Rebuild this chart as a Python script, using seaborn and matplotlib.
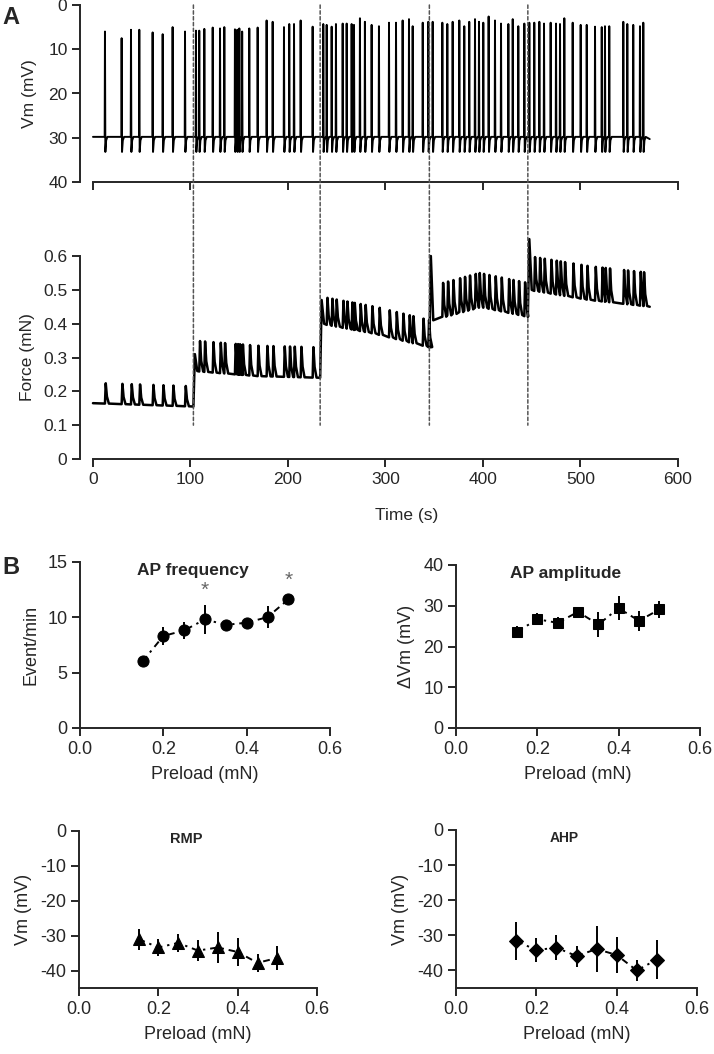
import numpy as np
import seaborn as sns
import matplotlib.pyplot as plt
from matplotlib.patches import ConnectionPatch

# ---- panel A: spike times (s) and peak Vm ----
spike_times = [12.3, 29.4, 39, 47.5, 61.2, 71.5, 81.7, 94.4, 105.6, 109, 114.2, 122.8,
               130.3, 134.7, 145.6, 148, 150.1, 153, 160.3, 168.9, 178.1, 184.3, 195.9,
               201.3, 206.2, 213, 225.3, 236.2, 239.7, 244.8, 249.2,
               256.1, 260.2, 265.3, 267.7, 273.8, 278.9, 285.8, 293.3, 303.6, 310.8,
               317.6, 324.1, 327.9, 338.2, 343.9, 348.4, 358.3, 363.4, 368.9, 375.7,
               380.8, 385.9, 391.8, 395.9, 400.3, 405.8, 412.3, 418.5, 426, 430.5,
               436.2, 442.4, 447.5, 452.6, 457.8, 462.6, 469.4, 474.9, 479, 483.4, 492,
               500.2, 506.4, 514.9, 521.8, 525.1, 529.5, 543.9, 548, 554.1, 561, 564.4]
spike_peaks = [6.0, 7.5, 5.6, 5.6, 6.2, 6.6, 5.0, 6.0, 5.8, 5.8, 5.4, 5.1, 5.3, 5.0,
               5.5, 5.6, 5.3, 6.0, 5.3, 5.1, 3.5, 3.8, 5.0, 4.3, 4.3, 3.5, 4.9, 4.3, 4.5,
               4.9, 4.3,
               4.2, 4.2, 4.3, 4.5, 3.0, 3.8, 4.5, 4.8, 4.0, 4.0, 3.5, 3.2, 4.8, 4.0, 3.8,
               3.8, 4.0, 4.3, 3.8, 3.5, 4.8, 3.8, 3.2, 3.8, 4.0, 2.6, 3.5, 4.2, 4.3, 3.2,
               4.8, 4.2, 4.0, 4.0, 3.8, 4.2, 4.0, 4.2, 4.3, 3.0, 4.0, 4.5, 4.5, 4.9, 5.0,
               4.8, 4.8, 3.8, 4.3, 4.5, 4.8, 4.0]
trace_end = 571
vm_rest = 29.8
vm_ahp = 33.2

# force steps: baseline at start, middle and end of each segment
step_times = [103, 233, 345, 446]
seg_base_start = [0.165, 0.26, 0.40, 0.41, 0.50]
seg_base_mid = [0.160, 0.245, 0.37, 0.45, 0.47]
seg_base_end = [0.155, 0.240, 0.33, 0.42, 0.45]
seg_twitch = [0.06, 0.09, 0.08, 0.10, 0.10]
step_peaks = [0.31, 0.47, 0.60, 0.65]

# ---- panel B ----
preload = [0.15, 0.20, 0.25, 0.30, 0.35, 0.40, 0.45, 0.50]
ap_freq = [6.0, 8.3, 8.8, 9.8, 9.3, 9.5, 10.0, 11.6]
ap_freq_err = [0.2, 0.8, 0.8, 1.3, 0.2, 0.2, 1.0, 0.2]
ap_amp = [23.6, 26.7, 25.8, 28.5, 25.4, 29.4, 26.3, 29.1]
ap_amp_err = [1.5, 1.5, 1.5, 1.0, 3.0, 3.0, 2.5, 2.0]
rmp = [-31.0, -33.4, -32.1, -34.3, -33.4, -34.7, -37.8, -36.4]
rmp_err = [3.0, 2.5, 2.5, 3.0, 4.5, 4.0, 2.5, 3.5]
ahp = [-31.6, -34.2, -33.5, -35.9, -33.9, -35.6, -40.0, -36.9]
ahp_err = [5.5, 3.5, 3.5, 3.0, 6.5, 5.0, 3.0, 5.5]
star_x = [0.30, 0.50]
star_y = [12.4, 13.3]

sns.set_style('ticks')
plt.rcParams['font.family'] = ['Liberation Sans', 'DejaVu Sans']
plt.rcParams['axes.unicode_minus'] = False
plt.rcParams['xtick.labelsize'] = 12.5
plt.rcParams['ytick.labelsize'] = 12.5
plt.rcParams['axes.labelsize'] = 12.5
plt.rcParams['axes.linewidth'] = 1.4
plt.rcParams['xtick.major.width'] = 1.4
plt.rcParams['ytick.major.width'] = 1.4
plt.rcParams['xtick.major.size'] = 5.5
plt.rcParams['ytick.major.size'] = 5.5

W, H = 714, 1054
fig = plt.figure(figsize=(W / 100, H / 100), dpi=100)


def box(l, t, r, b):
    return [l / W, 1 - b / H, (r - l) / W, (b - t) / H]


# ---- build the Vm trace from the spike list ----
vt, vv = [0.0], [vm_rest]
for st, pk in zip(spike_times, spike_peaks):
    vt += [st - 0.3, st, st + 0.4, st + 1.2, st + 2.5]
    vv += [vm_rest, pk, vm_ahp, vm_rest + 0.8, vm_rest]
vt.append(trace_end)
vv.append(vm_rest + 0.5)

# ---- build the force trace ----
bounds = [0] + step_times + [trace_end]
ft, fv = [], []
for k in range(5):
    ts, te = bounds[k], bounds[k + 1]
    anchors_t = [ts, (ts + te) / 2, te]
    anchors_v = [seg_base_start[k], seg_base_mid[k], seg_base_end[k]]
    if k > 0:
        ft += [ts, ts + 1.5]
        fv += [seg_base_end[k - 1], step_peaks[k - 1]]
    ft.append(ts + 4 if k > 0 else ts)
    fv.append(seg_base_start[k])
    for st in spike_times:
        if ts + 4 < st < te - 1:
            b = np.interp(st, anchors_t, anchors_v)
            a = seg_twitch[k]
            ft += [st, st + 0.8, st + 2.0, st + 4.0]
            fv += [b, b + a, b + 0.35 * a, b]
    ft.append(te)
    fv.append(seg_base_end[k])

ax_vm = fig.add_axes(box(80, 5, 678, 182))
sns.lineplot(x=vt, y=vv, ax=ax_vm, color='black', lw=1.4, estimator=None, sort=False)
ax_vm.set_xlim(-13.3, 600)
ax_vm.set_ylim(40, 0)
ax_vm.set_yticks([0, 10, 20, 30, 40])
ax_vm.set_xticks(range(0, 601, 100))
ax_vm.set_xticklabels([])
ax_vm.set_ylabel('Vm (mV)', labelpad=8)
sns.despine(ax=ax_vm)
ax_vm.spines['bottom'].set_bounds(0, 600)

ax_f = fig.add_axes(box(80, 256, 678, 459))
sns.lineplot(x=ft, y=fv, ax=ax_f, color='black', lw=1.8, estimator=None, sort=False)
for ln in ax_f.lines:
    ln.set_clip_on(False)
ax_f.set_xlim(-13.3, 600)
ax_f.set_ylim(0, 0.6)
ax_f.set_yticks([0, 0.1, 0.2, 0.3, 0.4, 0.5, 0.6])
ax_f.set_yticklabels(['0', '0.1', '0.2', '0.3', '0.4', '0.5', '0.6'])
ax_f.set_xticks(range(0, 601, 100))
ax_f.set_xlabel('Time (s)', labelpad=6)
ax_f.xaxis.set_label_coords(0.547, -0.24)
ax_f.set_ylabel('Force (mN)', labelpad=6)
sns.despine(ax=ax_f)
ax_f.spines['bottom'].set_bounds(0, 600)

for st in step_times:
    con = ConnectionPatch(xyA=(st, 0), coordsA=ax_vm.transData,
                          xyB=(st, 0.1), coordsB=ax_f.transData,
                          color='#555555', lw=1.1, linestyle=(0, (2.2, 1.6)))
    fig.add_artist(con)

dash = (0, (3.5, 2.5, 1.2, 2.5))


def small_panel(rect, y, yerr, marker, ms, ylim, yticks, ylabel, title, tsize):
    ax = fig.add_axes(rect)
    ax.errorbar(preload, y, yerr=yerr, fmt='none', ecolor='black', elinewidth=1.4, capsize=0)
    sns.lineplot(x=preload, y=y, ax=ax, color='black', lw=1.4, linestyle=dash,
                 marker=marker, markersize=ms, markeredgecolor='black', estimator=None)
    ax.set_xlim(0, 0.6)
    ax.set_ylim(*ylim)
    ax.set_xticks([0, 0.2, 0.4, 0.6])
    ax.set_xticklabels(['0.0', '0.2', '0.4', '0.6'])
    ax.set_yticks(yticks)
    ax.tick_params(labelsize=13)
    ax.set_xlabel('Preload (mN)', labelpad=6, fontsize=13)
    ax.set_ylabel(ylabel, labelpad=6, fontsize=13)
    ax.text(0.45, 0.95, title, transform=ax.transAxes, ha='center', va='center',
            fontsize=tsize, fontweight='bold')
    sns.despine(ax=ax)
    return ax


ax1 = small_panel(box(80, 561.7, 330, 728), ap_freq, ap_freq_err, 'o', 8,
                  (0, 15), [0, 5, 10, 15], 'Event/min', 'AP frequency', 12.5)
for sx, sy in zip(star_x, star_y):
    ax1.text(sx, sy, '*', ha='center', va='center', fontsize=15, color='#666666')

small_panel(box(456, 565, 700, 728), ap_amp, ap_amp_err, 's', 7.5,
            (0, 40), [0, 10, 20, 30, 40], 'ΔVm (mV)', 'AP amplitude', 12.5)
small_panel(box(79, 830.7, 317, 988), rmp, rmp_err, '^', 8.5,
            (-45, 0), [0, -10, -20, -30, -40], 'Vm (mV)', 'RMP', 10.5)
small_panel(box(456, 830, 697, 988), ahp, ahp_err, 'D', 7,
            (-45, 0), [0, -10, -20, -30, -40], 'Vm (mV)', 'AHP', 10)

fig.text(2 / W, 1 - 18 / H, 'A', fontsize=17, fontweight='bold', va='center')
fig.text(2 / W, 1 - 568 / H, 'B', fontsize=17, fontweight='bold', va='center')

fig.savefig('out.png', dpi=100)
